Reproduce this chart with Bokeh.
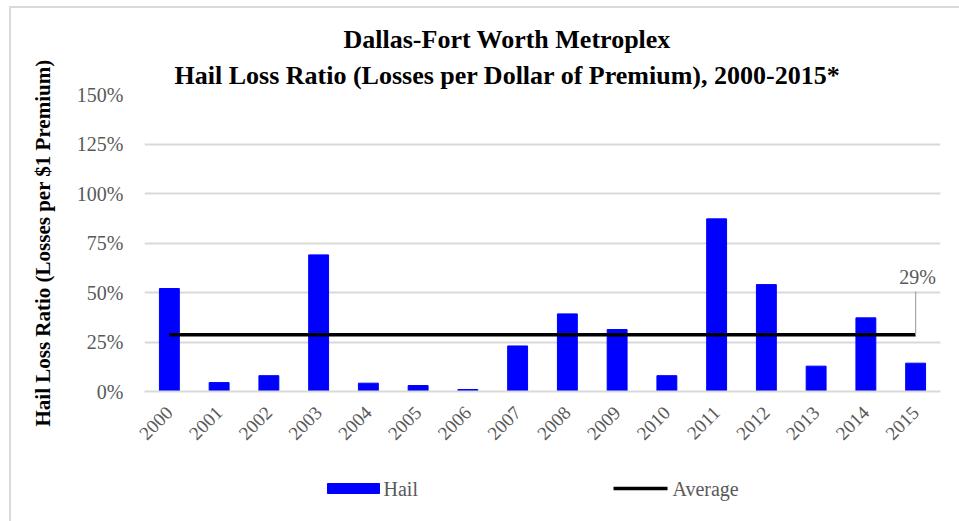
import math
from bokeh.plotting import figure
from bokeh.layouts import column
from bokeh.models import (FactorRange, Range1d, NumeralTickFormatter, FixedTicker, Title)
from bokeh.core.properties import value
from bokeh.embed import file_html
from bokeh.resources import INLINE

years = [str(y) for y in range(2000, 2016)]
hail = [0.52, 0.045, 0.08, 0.69, 0.042, 0.03, 0.01, 0.23,
        0.392, 0.313, 0.08, 0.872, 0.54, 0.128, 0.372, 0.143]
average = 0.286
average_label = "29%"
y_ticks = [0, 0.25, 0.5, 0.75, 1.0, 1.25, 1.5]
title_line1 = "Dallas-Fort Worth Metroplex"
title_line2 = "Hail Loss Ratio (Losses per Dollar of Premium), 2000-2015*"
y_label = "Hail Loss Ratio (Losses per $1 Premium)"
legend_labels = ["Hail", "Average"]

FONT = "Liberation Serif"
GRAY = "#595959"
GRID = "#d9d9d9"
BLUE = "#0000ff"

p = figure(x_range=FactorRange(*years), y_range=Range1d(0, 1.5),
           width=959, height=460, output_backend="svg", toolbar_location=None,
           min_border_left=144, min_border_right=19, min_border_top=94,
           min_border_bottom=69, border_fill_color=None)

p.title.text = title_line1
p.title.align = "left"
p.title.offset = 199
p.title.text_font = FONT
p.title.text_font_size = "26px"
p.title.text_font_style = "bold"
p.title.text_color = "black"
p.title.standoff = 0
p.add_layout(Title(text=title_line2, align="left", offset=30, text_font=FONT,
                   text_font_size="26px", text_font_style="bold",
                   text_color="black", standoff=10), "above")

p.vbar(x=years, top=hail, width=0.4, fill_color=BLUE, line_color=BLUE)
p.line(x=[years[0], years[-1]], y=[average, average],
       line_color="black", line_width=3.5)
p.segment(x0=[years[-1]], y0=[average], x1=[years[-1]], y1=[0.505],
          line_color="#a6a6a6", line_width=1.2)
p.text(x=[years[-1]], y=[0.576], text=[average_label], text_align="center",
       text_baseline="alphabetic", x_offset=2, text_font=value(FONT),
       text_font_size="20px", text_color=GRAY)

p.outline_line_color = None
p.xgrid.grid_line_color = None
p.ygrid.grid_line_color = GRID
p.ygrid.grid_line_width = 2

p.yaxis.ticker = FixedTicker(ticks=y_ticks)
p.yaxis.formatter = NumeralTickFormatter(format="0%")
p.yaxis.axis_line_color = None
p.yaxis.major_tick_line_color = None
p.yaxis.minor_tick_line_color = None
p.yaxis.major_label_text_font = FONT
p.yaxis.major_label_text_font_size = "20px"
p.yaxis.major_label_text_color = GRAY
p.yaxis.major_label_standoff = 15
p.yaxis.axis_label = y_label
p.yaxis.axis_label_text_font = FONT
p.yaxis.axis_label_text_font_size = "21px"
p.yaxis.axis_label_text_font_style = "bold"
p.yaxis.axis_label_text_color = "black"
p.yaxis.axis_label_standoff = 19

p.xaxis.axis_line_color = GRID
p.xaxis.axis_line_width = 2
p.xaxis.major_tick_line_color = None
p.xaxis.minor_tick_line_color = None
p.xaxis.major_label_orientation = math.pi / 4
p.xaxis.major_label_text_font = FONT
p.xaxis.major_label_text_font_size = "19px"
p.xaxis.major_label_text_color = GRAY
p.xaxis.major_label_standoff = 12

# legend strip (own small figure below the chart; its frame is aligned with the chart frame)
lg = figure(x_range=Range1d(144, 940), y_range=Range1d(0, 61), width=959, height=61,
            output_backend="svg", toolbar_location=None, min_border=0,
            border_fill_color=None)
lg.axis.visible = False
lg.grid.visible = False
lg.outline_line_color = None
lg.rect(x=[353], y=[33], width=52, height=10, fill_color=BLUE, line_color=BLUE)
lg.line(x=[613, 667], y=[33, 33], line_color="black", line_width=3.5)
lg.text(x=[383, 672], y=[33, 33], text=legend_labels, text_baseline="middle",
        text_font=value(FONT), text_font_size="20px", text_color=GRAY)

layout = column(p, lg, spacing=0, styles={
    "background": "linear-gradient(#d9d9d9, #d9d9d9) 9px 6px / 100% 2px no-repeat, "
                  "linear-gradient(#d9d9d9, #d9d9d9) 9px 6px / 2px 100% no-repeat"})
open("out.html", "w").write(file_html(layout, INLINE))
